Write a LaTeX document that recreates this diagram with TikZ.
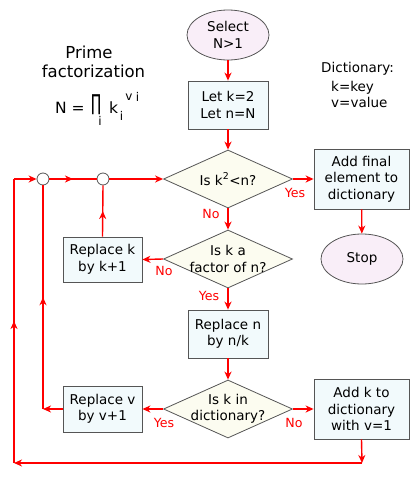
\documentclass[tikz,border=0pt]{standalone}
\usepackage{fontspec}
\setmainfont{DejaVu Sans}
\usetikzlibrary{shapes.geometric,arrows.meta,decorations.markings}
\definecolor{boxfill}{HTML}{F2FAFC}
\definecolor{ellfill}{HTML}{F9EEF8}
\definecolor{diafill}{HTML}{FCFCF0}
\definecolor{edge}{HTML}{555555}
\definecolor{flow}{HTML}{FF0000}
\newcommand\mainfs{\fontsize{13.5}{16.5}\selectfont}
\newcommand\labfs{\fontsize{12.6}{15}\selectfont}
\newcommand\titlefs{\fontsize{16.5}{19}\selectfont}
\newcommand\formfs{\fontsize{15.5}{18}\selectfont}
\newcommand\bigpfs{\fontsize{22}{22}\selectfont}
\newcommand\smallfs{\fontsize{12}{12}\selectfont}
\begin{document}
\begin{tikzpicture}[x=1pt,y=-1pt,
  tip/.tip={Stealth[length=8pt,width=7pt,inset=2.5pt]},
  every node/.style={font=\mainfs},
  box/.style={draw=edge,line width=0.8pt,fill=boxfill,minimum width=80,minimum height=48,align=center,inner sep=0},
  term/.style={ellipse,draw=edge,line width=0.8pt,fill=ellfill,minimum width=82,minimum height=50,align=center,inner sep=0},
  dia/.style={diamond,draw=edge,line width=0.8pt,fill=diafill,minimum width=129,minimum height=58,inner sep=0,aspect=2.2},
  joint/.style={circle,draw=edge,line width=0.8pt,fill=white,minimum size=12,inner sep=0},
  arr/.style={draw=flow,line width=1.4pt,-tip},
  midarr/.style={draw=flow,line width=1.4pt,postaction={decorate},
    decoration={markings,mark=at position 0.5 with {\arrow[flow]{tip}}}},
  lab/.style={text=flow,font=\labfs,inner sep=0},
  ftxt/.style={inner sep=0,font=\formfs},
  fsub/.style={inner sep=0,font=\smallfs}
]
\useasboundingbox (0,0) rectangle (420,479);

% nodes
\node[term] (sel) at (228,35) {Select\\N>1};
\node[box] (letk) at (228,105) {Let k=2\\Let n=N};
\node[dia] (d1) at (228,179) {};
\node[align=center] (d1t) at (228,179) {Is k\textsuperscript{2}<n?};
\node[box,minimum width=95,minimum height=60] (addf) at (361.5,179) {Add final\\element to\\dictionary};
\node[term] (stop) at (362,259) {Stop};
\node[dia] (d2) at (228,259) {};
\node[align=center] (d2t) at (228,259) {Is k a\\factor of n?};
\node[box,minimum width=79,minimum height=45] (repk) at (102.5,259.5) {Replace k\\by k+1};
\node[box] (repn) at (228,334) {Replace n\\by n/k};
\node[dia] (d3) at (228,409) {};
\node[align=center] (d3t) at (228,409) {Is k in\\dictionary?};
\node[box,minimum width=79,minimum height=46] (repv) at (102.5,409) {Replace v\\by v+1};
\node[box,minimum width=95,minimum height=60] (addk) at (361.5,409) {Add k to\\dictionary\\with v=1};
\node[joint] (c1) at (43,179) {};
\node[joint] (c2) at (103,179) {};
\coordinate (cv) at (43,409);
\coordinate (ca) at (362,463);
\coordinate (cb) at (14,463);
\coordinate (cc) at (14,179);

% connectors
\draw[arr] (sel) -- (letk);
\draw[arr] (letk) -- (d1);
\draw[arr] (d1.east) -- (addf.west);
\draw[arr] (addf) -- (stop);
\draw[arr] (d1.south) -- (d2.north);
\draw[arr] (d2.west) -- (repk.east);
\draw[arr] (d2.south) -- (repn.north);
\draw[arr] (repn) -- (d3);
\draw[arr] (d3.west) -- (repv.east);
\draw[arr] (d3.east) -- (addk.west);
\draw[arr] (repv.west) -- (cv);
\draw[midarr] (cv) -- (c1.south);
\draw[midarr] (repk.north) -- (c2.south);
\draw[midarr] (c1.east) -- (c2.west);
\draw[arr] (c2.east) -- (d1.west);
\draw[arr] (addk.south) -- (ca);
\draw[arr] (ca) -- (cb);
\draw[midarr] (cb) -- (cc);
\draw[arr] (cc) -- (c1.west);

% branch labels
\node[lab] (y1) at (295,193) {Yes};
\node[lab] (n1) at (211,214) {No};
\node[lab] (n2) at (164,271) {No};
\node[lab] (y2) at (209,296) {Yes};
\node[lab] (y3) at (164,423) {Yes};
\node[lab] (n3) at (294,423) {No};

% side texts
\node[anchor=base,font=\titlefs] (pr) at (89,58) {Prime};
\node[anchor=base,font=\titlefs] (fa) at (93.5,77) {factorization};
\node[anchor=base west,ftxt] (fN) at (55,113) {N =};
\node[anchor=base,inner sep=0,font=\bigpfs,xscale=0.6,transform shape] (fP) at (96,110) {∏};
\node[fsub] (fPi) at (100,121) {i};
\node[anchor=base west,ftxt] (fk) at (109,113) {k};
\node[fsub] (fki) at (121.5,115.5) {i};
\node[fsub] (fv) at (129,97.5) {v};
\node[fsub] (fvi) at (137.5,97) {i};
\node[anchor=base west,inner sep=0] (dic) at (321,72) {Dictionary:};
\node[anchor=base west,inner sep=0] (dk) at (331,91) {k=key};
\node[anchor=base west,inner sep=0] (dv) at (331,107) {v=value};
\end{tikzpicture}
\end{document}
